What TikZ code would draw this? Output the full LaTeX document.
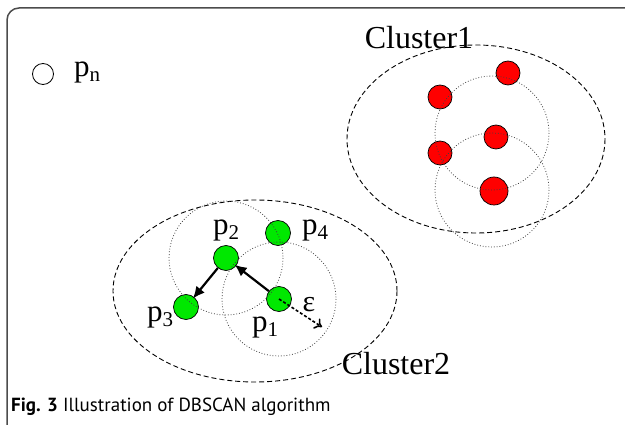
\documentclass[tikz,border=0pt]{standalone}
\usepackage{fontspec}
\setmainfont{Liberation Serif}
\newfontfamily\capfont{PT Sans}
\usetikzlibrary{arrows.meta}
\newcommand{\psub}[2]{#1{\fontsize{21}{21}\selectfont\raisebox{-5pt}{#2}}}
\tikzset{
  frame/.style={draw=black!70, line width=1.5pt, rounded corners=12pt},
  clusterell/.style={draw=black, line width=0.9pt, dash pattern=on 5pt off 3pt},
  epscircle/.style={draw=black!75, dotted, line width=0.8pt},
  gdot/.style={circle, draw=black, line width=0.7pt, fill=green!85!black!60!green, inner sep=0pt, minimum size=25pt},
  rdot/.style={circle, draw=black, line width=0.7pt, fill=red, inner sep=0pt, minimum size=24pt},
  odot/.style={circle, draw=black, line width=0.8pt, fill=white, inner sep=0pt, minimum size=21pt},
  lbl/.style={font=\fontsize{31}{31}\selectfont, inner sep=0pt},
  clbl/.style={font=\fontsize{32}{32}\selectfont, inner sep=0pt},
  link/.style={draw=black, line width=2.2pt, -{Latex[length=12pt,width=11pt]}, shorten >=-2pt},
  epsarrow/.style={draw=black, line width=1.6pt, dash pattern=on 3pt off 2pt, -{To[length=7pt,width=12pt]}}
}
\begin{document}
\begin{tikzpicture}[x=1pt,y=-1pt]
\useasboundingbox (0,0) rectangle (625,425);
\begin{scope}
\clip (0,0) rectangle (625,425);
\draw[frame] (7,8) rectangle (645,445);
\end{scope}

% p_n legend
\node[odot] (pn) at (43,74) {};
\node[lbl, anchor=west] (pnlabel) at (74,72) {\psub{p}{n}};

% Cluster 1
\draw[clusterell] (476,139) ellipse [x radius=129, y radius=94];
\node[clbl] (c1label) at (419,38) {Cluster1};
\node[rdot] (r1) at (440,97) {};
\node[rdot] (r2) at (508,73) {};
\node[rdot] (r3) at (496,137) {};
\node[rdot] (r4) at (440,153) {};
\node[rdot, minimum size=28pt] (r5) at (494,191) {};
\draw[epscircle] (492,133) circle [radius=57];
\draw[epscircle] (492,190) circle [radius=57];

% Cluster 2
\draw[clusterell] (255,291) ellipse [x radius=142, y radius=91];
\node[clbl] (c2label) at (396,364) {Cluster2};
\node[gdot] (p1) at (279,299) {};
\node[gdot] (p2) at (226,258) {};
\node[gdot] (p3) at (186,307) {};
\node[gdot] (p4) at (278,233) {};
\draw[epscircle] (p2.center) circle [radius=57];
\draw[epscircle] (p1.center) circle [radius=57];

\draw[link] (p1) -- (p2);
\draw[link] (p2) -- (p3);
\coordinate (epsend) at (322,327);
\draw[epsarrow] (p1.center) -- (epsend);

\node[lbl] (l1) at (265,327) {\psub{p}{1}};
\node[lbl] (l2) at (226,230) {\psub{p}{2}};
\node[lbl] (l3) at (160,317) {\psub{p}{3}};
\node[lbl] (l4) at (315,230) {\psub{p}{4}};
\node[font=\fontsize{30}{30}\selectfont, inner sep=0pt] (eps) at (309,305) {ε};

% caption
\node[anchor=west, inner sep=0pt, font=\capfont\fontsize{19}{19}\selectfont] (cap) at (11,407) {\textbf{Fig. 3} Illustration of DBSCAN algorithm};
\end{tikzpicture}
\end{document}
